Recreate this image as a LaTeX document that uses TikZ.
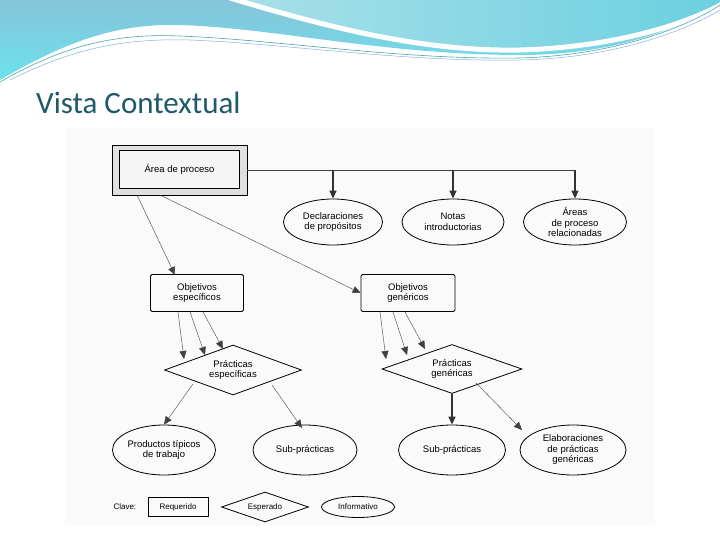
\documentclass[tikz,border=0pt]{standalone}
\usepackage{fontspec}
\setmainfont{Liberation Sans}
\newfontfamily\titlefont{Carlito}
\usetikzlibrary{shapes.geometric,arrows.meta}
\definecolor{wavea}{HTML}{86C4D8}
\definecolor{waveb}{HTML}{6CE2EE}
\definecolor{wavec}{HTML}{A8E0E8}
\definecolor{titlec}{HTML}{1F5A6A}
\begin{document}
\begin{tikzpicture}[x=1pt,y=-1pt,
  txt/.style={font=\fontsize{9.5}{10.5}\selectfont,align=center},
  ell/.style={ellipse,draw,thick,inner sep=0pt,txt},
  box/.style={draw,thick,rounded corners=1.5pt,inner sep=0pt,txt},
  dia/.style={diamond,draw,thick,inner sep=0pt,txt,aspect=2.7},
  arr/.style={-{Triangle[length=8pt,width=7pt]},draw=black!75},
  tarr/.style={-{Triangle[length=8pt,width=7pt]},line width=1.4pt,draw=black!80}]
\useasboundingbox (0,0) rectangle (720,540);
% header waves
\shade[top color=wavea,bottom color=waveb] (0,0) -- (0,80) .. controls (60,45) and (110,25) .. (170,25) .. controls (260,25) and (380,55) .. (520,55) .. controls (620,55) and (690,25) .. (720,0) -- cycle;
\shade[left color=wavec,right color=wavea!80!cyan] (240,0) .. controls (320,25) and (420,50) .. (520,48) .. controls (620,44) and (690,20) .. (720,5) -- (720,0) -- cycle;
\draw[white,line width=5pt] (230,-2) .. controls (320,25) and (420,52) .. (520,50) .. controls (620,47) and (690,22) .. (722,4);
\draw[teal!70,line width=0.6pt] (0,82) .. controls (60,48) and (110,33) .. (180,36) .. controls (280,40) and (400,60) .. (520,58) .. controls (620,55) and (690,25) .. (720,5);
\draw[cyan!60!blue!50,line width=0.5pt] (10,80) .. controls (70,50) and (120,38) .. (190,40) .. controls (290,44) and (400,62) .. (520,60) .. controls (620,58) and (690,28) .. (720,10);
\node[anchor=base west,text=titlec,font=\titlefont\fontsize{31}{34}\selectfont,inner sep=0pt] (title) at (36,114) {Vista Contextual};
% panel
\fill[black!2] (65,128) rectangle (655,525);
% nodes
\node[draw,fill=black!12,minimum width=135pt,minimum height=50pt] (ap) at (179.5,170) {};
\node[draw,fill=black!4,minimum width=120pt,minimum height=38pt,txt] (api) at (179.5,169) {Área de proceso};
\node[ell,minimum width=99pt,minimum height=46pt] (dp) at (333,222) {Declaraciones\\de propósitos};
\node[ell,minimum width=102pt,minimum height=46pt] (ni) at (453,222) {Notas\\introductorias};
\node[ell,minimum width=103pt,minimum height=46pt] (ar) at (575,222) {Áreas\\de proceso\\relacionadas};
\node[box,minimum width=93pt,minimum height=37pt] (oe) at (197,293) {Objetivos\\específicos};
\node[box,minimum width=94pt,minimum height=37pt] (og) at (408,293) {Objetivos\\genéricos};
\node[dia,minimum width=137pt,minimum height=50pt] (pe) at (233,370) {Prácticas\\específicas};
\node[dia,minimum width=140pt,minimum height=49pt] (pg) at (452,369) {Prácticas\\genéricas};
\node[ell,minimum width=102pt,minimum height=50pt] (pt) at (164,450) {Productos típicos\\de trabajo};
\node[ell,minimum width=104pt,minimum height=50pt] (sp1) at (305,450) {Sub-prácticas};
\node[ell,minimum width=107pt,minimum height=50pt] (sp2) at (452,450) {Sub-prácticas};
\node[ell,minimum width=106pt,minimum height=50pt] (el) at (573,450) {Elaboraciones\\de prácticas\\genéricas};
% key
\node[txt,anchor=west,font=\fontsize{8}{9}\selectfont] (cl) at (110,507) {Clave:};
\node[draw,thick,minimum width=60pt,minimum height=19pt,txt,font=\fontsize{8}{9}\selectfont,inner sep=0pt] (kr) at (178,507) {Requerido};
\node[dia,minimum width=87pt,minimum height=30pt,font=\fontsize{8}{9}\selectfont] (ke) at (265,507) {Esperado};
\node[ell,minimum width=73pt,minimum height=21pt,font=\fontsize{8}{9}\selectfont] (ki) at (358,507) {Informativo};
% connectors
\coordinate (h3) at (575,170);
\draw[black!75] (ap.east) -- (h3);
\draw[tarr] (333,170) -- (dp.north);
\draw[tarr] (453,170) -- (ni.north);
\draw[tarr] (h3) -- (ar.north);
\draw[arr] (137,195) -- (175,275);
\draw[arr] (160,195) -- (og.west);
\draw[arr] (178,312) -- (184,359);
\draw[arr] (190,312) -- (205,355);
\draw[arr] (203,312) -- (223,349);
\draw[arr] (380,312) -- (386,359);
\draw[arr] (393,312) -- (407,355);
\draw[arr] (405,312) -- (425,349);
\draw[arr] (193,384) -- (pt.north);
\draw[arr] (272,385) -- (302,428);
\draw[tarr] (pg.south) -- (sp2.north);
\draw[arr] (476,383) -- (522,430);
\end{tikzpicture}
\end{document}
